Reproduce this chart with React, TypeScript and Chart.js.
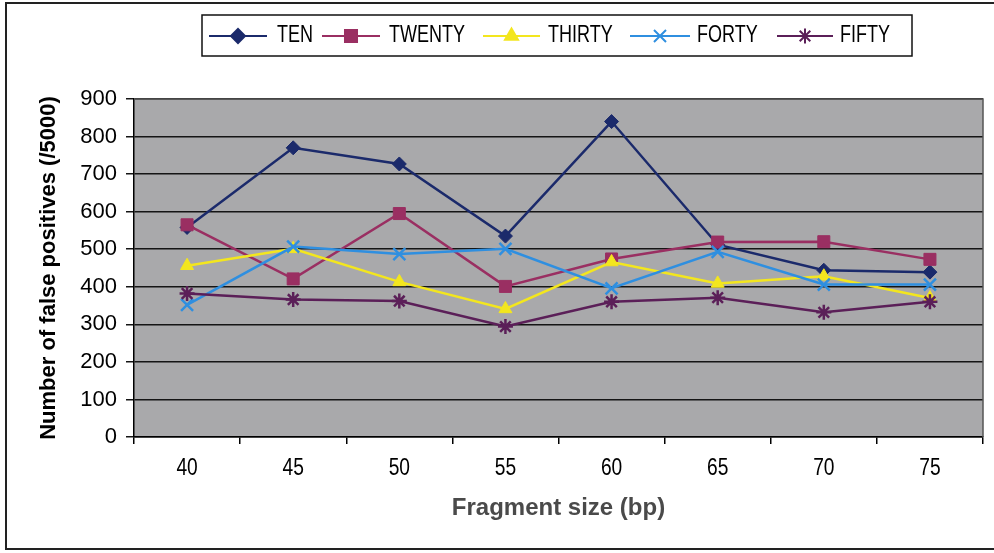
import React, { useEffect, useRef } from 'react';
import { Chart, registerables } from 'chart.js';
import { drawPoint } from 'chart.js/helpers';

Chart.register(...registerables);

const categories = ['40', '45', '50', '55', '60', '65', '70', '75'];
const seriesNames = ['TEN', 'TWENTY', 'THIRTY', 'FORTY', 'FIFTY'];
const ten = [558, 770, 727, 535, 840, 512, 444, 439];
const twenty = [565, 421, 595, 401, 474, 519, 520, 473];
const thirty = [456, 501, 413, 341, 466, 409, 428, 370];
const forty = [352, 507, 487, 501, 396, 493, 406, 406];
const fifty = [382, 366, 362, 294, 360, 371, 332, 360];
const yMin = 0;
const yMax = 900;
const yStep = 100;

const colors = ['#1b2a6b', '#9a2f62', '#f3e61e', '#2f8fe0', '#5b1f58'];
const pointStyles = ['rectRot', 'rect', 'triangle', 'crossRot', 'star'];
const pointRadii = [7, 8.5, 7.5, 8.5, 7.5];
const pointBorderWidths = [1, 1, 1, 2.5, 2.5];
const allValues = [ten, twenty, thirty, forty, fifty];

const FONT = "'Liberation Sans', Arial, sans-serif";

// legend item layout: [lineStart, lineEnd, textStart]
const legendItems = [
  [209, 267, 277],
  [322, 380, 389],
  [483, 540, 548],
  [630, 690, 697],
  [777, 833, 840],
];

const plotBg = {
  id: 'plotBg',
  beforeDraw(chart: any) {
    const { ctx, chartArea: a } = chart;
    ctx.save();
    ctx.fillStyle = '#ffffff';
    ctx.fillRect(0, 0, chart.width, chart.height);
    ctx.fillStyle = '#a9a9ab';
    ctx.fillRect(a.left, a.top, a.right - a.left, a.bottom - a.top);
    ctx.restore();
  },
  beforeDatasetsDraw(chart: any) {
    const { ctx, chartArea: a } = chart;
    ctx.save();
    ctx.strokeStyle = '#555555';
    ctx.lineWidth = 1.5;
    ctx.beginPath();
    ctx.moveTo(a.left, a.top);
    ctx.lineTo(a.right, a.top);
    ctx.lineTo(a.right, a.bottom);
    ctx.stroke();
    ctx.restore();
  },
};

const frameAndLegend = {
  id: 'frameAndLegend',
  afterDraw(chart: any) {
    const { ctx } = chart;
    ctx.save();
    // outer frame
    ctx.strokeStyle = '#222';
    ctx.lineWidth = 2;
    ctx.strokeRect(6, 3, 1010, 546);
    // condensed x tick labels, placed by the x scale
    const xs = chart.scales.x;
    ctx.fillStyle = '#000';
    ctx.font = `24px ${FONT}`;
    ctx.textBaseline = 'alphabetic';
    ctx.textAlign = 'center';
    chart.data.labels.forEach((lab: string, i: number) => {
      const px = xs.getPixelForTick(i);
      ctx.save();
      ctx.translate(px, chart.chartArea.bottom + 38);
      ctx.scale(0.8, 1);
      ctx.fillText(lab, 0, 0);
      ctx.restore();
    });
    // legend box
    ctx.lineWidth = 1.5;
    ctx.strokeStyle = '#111';
    ctx.strokeRect(202, 15, 710, 41);
    chart.data.datasets.forEach((ds: any, i: number) => {
      const [x0, x1, tx] = legendItems[i];
      const cy = 36;
      ctx.strokeStyle = ds.borderColor;
      ctx.fillStyle = ds.backgroundColor;
      ctx.lineWidth = 2;
      ctx.beginPath();
      ctx.moveTo(x0, cy);
      ctx.lineTo(x1, cy);
      ctx.stroke();
      drawPoint(
        ctx,
        { pointStyle: ds.pointStyle, rotation: 0, radius: ds.pointRadius, borderWidth: ds.pointBorderWidth },
        (x0 + x1) / 2,
        cy
      );
      ctx.save();
      ctx.translate(tx, 42);
      ctx.scale(0.75, 1);
      ctx.fillStyle = '#000';
      ctx.font = `24px ${FONT}`;
      ctx.textBaseline = 'alphabetic';
      ctx.textAlign = 'left';
      ctx.fillText(ds.label, 0, 0);
      ctx.restore();
    });
    ctx.restore();
  },
};

export default function App() {
  const ref = useRef<HTMLCanvasElement | null>(null);
  useEffect(() => {
    if (!ref.current) return;
    const chart = new Chart(ref.current, {
      type: 'line',
      data: {
        labels: categories,
        datasets: seriesNames.map((name, i) => ({
          label: name,
          data: allValues[i],
          borderColor: colors[i],
          backgroundColor: colors[i],
          pointBackgroundColor: colors[i],
          pointBorderColor: colors[i],
          pointStyle: pointStyles[i],
          pointRadius: pointRadii[i],
          pointBorderWidth: pointBorderWidths[i],
          borderWidth: 2.5,
          tension: 0,
          fill: false,
          order: 4 - i,
        })) as any,
      },
      options: {
        animation: false,
        responsive: false,
        maintainAspectRatio: false,
        events: [],
        layout: { padding: { left: 32, top: 99, right: 9, bottom: 26 } },
        plugins: {
          legend: { display: false },
          tooltip: { enabled: false },
        },
        scales: {
          x: {
            offset: true,
            grid: {
              offset: true,
              drawOnChartArea: false,
              drawTicks: true,
              tickLength: 7,
              color: '#000',
              lineWidth: 1.5,
            },
            border: { color: '#000', width: 1.5 },
            ticks: { font: { family: FONT, size: 19 }, color: 'rgba(0,0,0,0)', padding: 10 },
            title: {
              display: true,
              text: 'Fragment size (bp)',
              font: { family: FONT, size: 24, weight: 'bold' },
              color: '#4a4a4a',
            },
            afterFit: (s: any) => {
              s.height = 553 - 437 - 26;
            },
          },
          y: {
            min: yMin,
            max: yMax,
            ticks: { stepSize: yStep, font: { family: FONT, size: 22 }, color: '#000', padding: 9 },
            grid: { color: '#151515', lineWidth: 1.5, tickLength: 8 },
            border: { color: '#000', width: 1.5 },
            title: {
              display: true,
              text: 'Number of false positives (/5000)',
              font: { family: FONT, size: 22, weight: 'bold' },
              color: '#000',
            },
            afterFit: (s: any) => {
              s.width = 102;
            },
          },
        },
      } as any,
      plugins: [plotBg, frameAndLegend],
    });
    return () => chart.destroy();
  }, []);
  return (
    <div style={{ position: 'fixed', left: 0, top: 0, width: 994, height: 553, background: '#fff' }}>
      <canvas ref={ref} width={994} height={553} style={{ display: 'block', width: 994, height: 553 }} />
    </div>
  );
}
